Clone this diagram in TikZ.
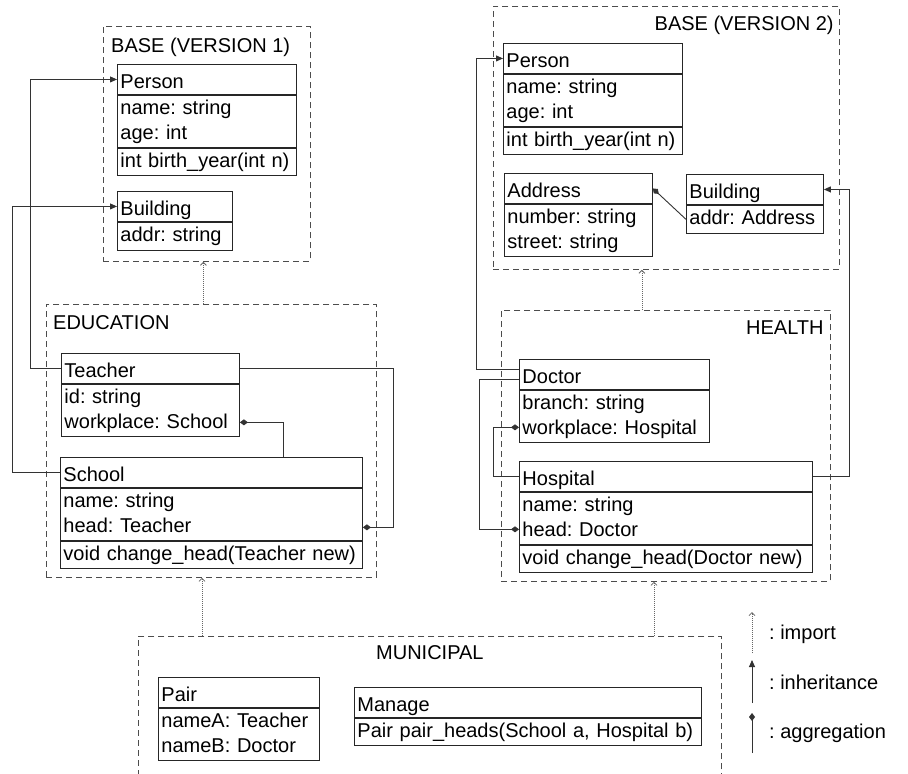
\documentclass[tikz,border=0pt]{standalone}
\usepackage{fontspec}
\setmainfont{Liberation Sans}
\usetikzlibrary{arrows.meta,calc}
\frenchspacing

\begin{document}
\begin{tikzpicture}[x=1pt,y=-1pt]
  \tikzstyle{every node}=[font=\fontsize{20}{25}\selectfont, inner sep=0pt]
  \tikzstyle{pkg}=[draw=black!70, line width=0.8pt, dash pattern=on 6pt off 4pt, anchor=north west]
  \tikzstyle{cls}=[draw=black!85, line width=0.9pt, anchor=north west, inner xsep=3pt, inner ysep=0pt, align=left]
  \tikzstyle{head}=[cls, minimum height=30pt, text height=24pt, text depth=6pt]
  \tikzstyle{rowone}=[cls, minimum height=28pt, text height=19pt, text depth=9pt]
  \tikzstyle{rowtwo}=[cls, minimum height=52pt, text height=19pt, text depth=33pt]
  \tikzstyle{meth}=[cls, minimum height=27pt, text height=19pt, text depth=8pt]
  \tikzstyle{link}=[draw=black!80, line width=0.9pt]
  \tikzstyle{inherit}=[link, -{Triangle[length=7pt,width=6pt]}]
  \tikzstyle{aggr}=[link, -{Diamond[length=8pt,width=6pt]}]
  \tikzstyle{import}=[draw=black!60, line width=0.8pt, dash pattern=on 1pt off 1pt, -{Straight Barb[length=3pt,width=6pt]}]
  \useasboundingbox (0,0) rectangle (908,774);
  \clip (0,0) rectangle (908,774);
  \fill[white] (0,0) rectangle (908,774);
  %
  % packages
  \node[pkg, minimum width=207pt, minimum height=235pt] (base1) at (103,26) {};
  \node[pkg, minimum width=330pt, minimum height=273pt] (edu) at (46,304) {};
  \node[pkg, minimum width=346pt, minimum height=263pt] (base2) at (493,6) {};
  \node[pkg, minimum width=329pt, minimum height=271pt] (health) at (501,310) {};
  \node[pkg, minimum width=583pt, minimum height=170pt] (muni) at (138,636) {};
  \node[anchor=base west] (base1t) at ($(base1.north west)+(8,26)$) {BASE (VERSION 1)};
  \node[anchor=base west] (edut) at ($(edu.north west)+(7,25)$) {EDUCATION};
  \node[anchor=base east] (base2t) at ($(base2.north east)+(-6,24)$) {BASE (VERSION 2)};
  \node[anchor=base east] (healtht) at ($(health.north east)+(-7,24)$) {HEALTH};
  \node[anchor=base] (munit) at ($(muni.north)+(0,23)$) {MUNICIPAL};
  %
  % BASE (VERSION 1)
  \node[head, text width=173pt] (per1) at (117,64) {Person};
  \node[rowtwo, text width=173pt] (per1a) at (per1.south west) {name: string\\age: int};
  \node[meth, text width=173pt] (per1m) at (per1a.south west) {int birth\_year(int n)};
  \node[head, text width=109pt] (bld1) at (117,191) {Building};
  \node[rowone, text width=109pt] (bld1a) at (bld1.south west) {addr: string};
  %
  % EDUCATION
  \node[head, text width=172pt] (tch) at (61,353) {Teacher};
  \node[rowtwo, text width=172pt] (tcha) at (tch.south west) {id: string\\workplace: School};
  \node[head, text width=296pt] (sch) at (60,457) {School};
  \node[rowtwo, text width=296pt] (scha) at (sch.south west) {name: string\\head: Teacher};
  \node[meth, text width=296pt] (schm) at (scha.south west) {void change\_head(Teacher new)};
  %
  % BASE (VERSION 2)
  \node[head, text width=173pt] (per2) at (503,43) {Person};
  \node[rowtwo, text width=173pt] (per2a) at (per2.south west) {name: string\\age: int};
  \node[meth, text width=173pt] (per2m) at (per2a.south west) {int birth\_year(int n)};
  \node[head, text width=142pt] (adr) at (504,173) {Address};
  \node[rowtwo, text width=142pt] (adra) at (adr.south west) {number: string\\street: string};
  \node[head, text width=131pt] (bld2) at (686,174) {Building};
  \node[rowone, text width=131pt] (bld2a) at (bld2.south west) {addr: Address};
  %
  % HEALTH
  \node[head, text width=184pt] (doc) at (519,359) {Doctor};
  \node[rowtwo, text width=184pt] (doca) at (doc.south west) {branch: string\\workplace: Hospital};
  \node[head, text width=287pt] (hos) at (519,461) {Hospital};
  \node[rowtwo, text width=287pt] (hosa) at (hos.south west) {name: string\\head: Doctor};
  \node[meth, text width=287pt] (hosm) at (hosa.south west) {void change\_head(Doctor new)};
  %
  % MUNICIPAL
  \node[head, text width=155pt] (pair) at (158,677) {Pair};
  \node[rowtwo, text width=155pt] (paira) at (pair.south west) {nameA: Teacher\\nameB: Doctor};
  \node[head, text width=341pt] (mng) at (354,687) {Manage};
  \node[meth, text width=341pt] (mngm) at (mng.south west) {Pair pair\_heads(School a, Hospital b)};
  %
  % inheritance
  \draw[inherit] (tch.west) -- ++(-31,0) |- (per1.west);
  \draw[inherit] (sch.west) -- ++(-48,0) |- (bld1.west);
  \coordinate (docup) at ($(doc.west)+(0,-5)$);
  \coordinate (docdn) at ($(doc.west)+(0,5)$);
  \draw[inherit] (docup) -- ++(-43,0) |- (per2.west);
  \draw[inherit] (hos.east) -- ++(37,0) |- (bld2.east);
  %
  % aggregation
  \coordinate (schhead) at ($(scha.east)+(0,13)$);
  \draw[aggr] (tch.east) -- ++(154,0) |- (schhead);
  \coordinate (schtop) at ($(sch.north west)+(223,0)$);
  \coordinate (tchwork) at ($(tcha.east)+(0,12)$);
  \draw[aggr] (schtop) |- (tchwork);
  \coordinate (hoshead) at ($(hosa.west)+(0,11)$);
  \draw[aggr] (docdn) -- ++(-40,0) |- (hoshead);
  \coordinate (docwork) at ($(doca.west)+(0,11)$);
  \draw[aggr] (hos.west) -- ++(-26,0) |- (docwork);
  \draw[aggr] (bld2a.west) -- (adr.east);
  %
  % import
  \coordinate (imp1) at ($(edu.north)+(-8,0)$);
  \draw[import] (imp1) -- (imp1 |- base1.south);
  \coordinate (imp2) at ($(health.north)+(-24,0)$);
  \draw[import] (imp2) -- (imp2 |- base2.south);
  \coordinate (imp3) at ($(muni.north west)+(64,0)$);
  \draw[import] (imp3) -- (imp3 |- edu.south);
  \coordinate (imp4) at ($(muni.north west)+(516,0)$);
  \draw[import] (imp4) -- (imp4 |- health.south);
  %
  % legend
  \coordinate (lgimpa) at (752,653);
  \coordinate (lgimpb) at (752,612);
  \coordinate (lginha) at (752,703);
  \coordinate (lginhb) at (752,660);
  \coordinate (lgagga) at (752,753);
  \coordinate (lgaggb) at (752,713);
  \draw[import] (lgimpa) -- (lgimpb);
  \draw[inherit] (lginha) -- (lginhb);
  \draw[aggr] (lgagga) -- (lgaggb);
  \node[anchor=base west] (lgimp) at (769,639) {: import};
  \node[anchor=base west] (lginh) at (769,689) {: inheritance};
  \node[anchor=base west] (lgagg) at (769,738) {: aggregation};
\end{tikzpicture}
\end{document}
